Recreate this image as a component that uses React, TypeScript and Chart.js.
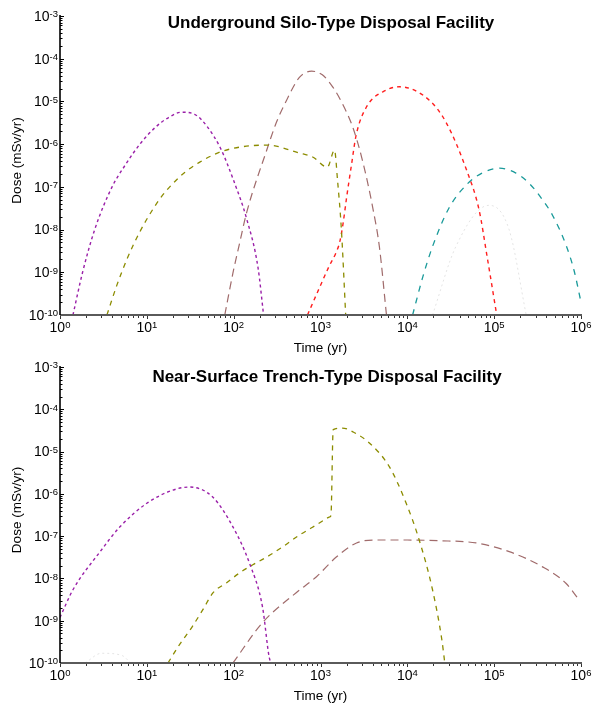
import React, { useEffect, useRef } from "react";
import { Chart, registerables } from "chart.js";

Chart.register(...registerables);

// ---------- axis ticks ----------
const X_TICKS = [1, 10, 100, 1e3, 1e4, 1e5, 1e6];
const X_TICK_EXP = ["0", "1", "2", "3", "4", "5", "6"];
const Y_TICKS = [1e-3, 1e-4, 1e-5, 1e-6, 1e-7, 1e-8, 1e-9, 1e-10];
const Y_TICK_EXP = ["-3", "-4", "-5", "-6", "-7", "-8", "-9", "-10"];

const TOP_TITLE = "Underground Silo-Type Disposal Facility";
const BOTTOM_TITLE = "Near-Surface Trench-Type Disposal Facility";
const X_LABEL = "Time (yr)";
const Y_LABEL = "Dose (mSv/yr)";

// ---------- top chart (silo) ----------
const siloPurpleT = [1.41, 1.82, 2.51, 3.98, 5.62, 8.32, 12.6, 17.8, 25.1, 35.5, 50.1, 70.8, 100, 141, 191, 221];
const siloPurpleD = [1e-10, 1e-9, 1e-8, 1e-7, 3.2e-7, 1e-6, 2.5e-6, 4.2e-6, 5.6e-6, 5.0e-6, 2.5e-6, 7.9e-7, 1.4e-7, 1.8e-8, 1.26e-9, 1e-10];

const siloOliveT = [3.47, 4.52, 6.03, 8.32, 11.5, 15.1, 20, 27.5, 40.7, 69.2, 117, 240, 575, 813, 1200, 1450, 1570, 1740, 1950];
const siloOliveD = [1e-10, 5e-10, 2.24e-9, 8.9e-9, 2.8e-8, 6.3e-8, 1.2e-7, 2.2e-7, 3.8e-7, 6.5e-7, 8.5e-7, 9.5e-7, 6.2e-7, 5.0e-7, 2.9e-7, 7.2e-7, 1.45e-7, 1.0e-8, 1e-10];

const siloBrownT = [79, 98, 117, 141, 240, 310, 407, 575, 790, 1050, 1380, 1780, 2350, 3030, 3980, 4770, 5750];
const siloBrownD = [1e-10, 9.5e-10, 4.8e-9, 2.5e-8, 7.2e-7, 3.2e-6, 1.07e-5, 3.7e-5, 5.1e-5, 4.2e-5, 2.2e-5, 9e-6, 2.5e-6, 4.3e-7, 3.4e-8, 3.9e-9, 1e-10];

const siloRedT = [708, 980, 1260, 1500, 1660, 1820, 2000, 2290, 2570, 3380, 5750, 8100, 17900, 28000, 48000, 67000, 83000, 107000];
const siloRedD = [1e-10, 4.5e-10, 1.4e-9, 2.8e-9, 5e-9, 1.4e-8, 5.7e-8, 3.6e-7, 1.6e-6, 7.4e-6, 1.85e-5, 2.2e-5, 1.07e-5, 3.2e-6, 2.5e-7, 2.9e-8, 2.3e-9, 1e-10];

const siloTealT = [11500, 15100, 19500, 30200, 49000, 72400, 115000, 178000, 251000, 355000, 468000, 676000, 832000, 1000000];
const siloTealD = [1e-10, 7.9e-10, 4e-9, 3.2e-8, 1.17e-7, 2.1e-7, 2.75e-7, 2.1e-7, 1.23e-7, 5.2e-8, 2.2e-8, 4.2e-9, 1.1e-9, 2e-10];

const siloFaintT = [19500, 36000, 87000, 149000, 234000];
const siloFaintD = [1e-10, 3.9e-9, 3.7e-8, 9.8e-9, 1e-10];

// ---------- bottom chart (trench) ----------
const trenchPurpleT = [1, 1.41, 2.9, 4.9, 10, 20, 31, 57, 98, 152, 215, 258, 275];
const trenchPurpleD = [1.2e-9, 5.4e-9, 4.3e-8, 1.66e-7, 6e-7, 1.23e-6, 1.45e-6, 8.5e-7, 1.66e-7, 2.3e-8, 2.1e-9, 1.3e-10, 1e-10];

const trenchOliveT = [17.5, 24, 33, 44, 58, 83, 117, 166, 240, 363, 575, 800, 1100, 1280, 1320, 1400, 1780, 2500, 3650, 6200, 9700, 13700, 19500, 25000, 27000];
const trenchOliveD = [1e-10, 2.8e-10, 7e-10, 1.8e-9, 4.6e-9, 7.9e-9, 1.35e-8, 2.1e-8, 3.2e-8, 5.5e-8, 1.07e-7, 1.6e-7, 2.4e-7, 2.85e-7, 3.1e-7, 3.3e-5, 3.6e-5, 2.75e-5, 1.6e-5, 4.4e-6, 6e-7, 8.1e-8, 5.4e-9, 3.5e-10, 1e-10];

const trenchBrownT = [98, 215, 525, 900, 1520, 2600, 4400, 10000, 23000, 62000, 149000, 357000, 670000, 950000];
const trenchBrownD = [1e-10, 9e-10, 4.6e-9, 1.1e-8, 3.2e-8, 6.9e-8, 8.1e-8, 8.1e-8, 7.8e-8, 6.9e-8, 4.3e-8, 1.9e-8, 7.7e-9, 3.1e-9];

const trenchFaintT = [1.95, 3.0, 5.2, 6.5];
const trenchFaintD = [1e-10, 1.7e-10, 1.5e-10, 1e-10];

// ---------- styles ----------
const PURPLE = "#9a1fa8";
const OLIVE = "#8c8c00";
const BROWN = "#a06b6b";
const RED = "#ff1e1e";
const TEAL = "#1a9a9a";
const FAINT = "#e4e4e4";

type Series = { t: number[]; d: number[]; color: string; dash: number[]; width: number };

const topSeries: Series[] = [
  { t: siloFaintT, d: siloFaintD, color: FAINT, dash: [2, 3], width: 1 },
  { t: siloPurpleT, d: siloPurpleD, color: PURPLE, dash: [3, 3], width: 1.4 },
  { t: siloOliveT, d: siloOliveD, color: OLIVE, dash: [5, 5], width: 1.3 },
  { t: siloBrownT, d: siloBrownD, color: BROWN, dash: [8, 5], width: 1.2 },
  { t: siloRedT, d: siloRedD, color: RED, dash: [4, 4], width: 1.4 },
  { t: siloTealT, d: siloTealD, color: TEAL, dash: [6, 6], width: 1.3 },
];

const bottomSeries: Series[] = [
  { t: trenchFaintT, d: trenchFaintD, color: FAINT, dash: [2, 3], width: 1 },
  { t: trenchPurpleT, d: trenchPurpleD, color: PURPLE, dash: [3, 3], width: 1.4 },
  { t: trenchOliveT, d: trenchOliveD, color: OLIVE, dash: [5, 5], width: 1.3 },
  { t: trenchBrownT, d: trenchBrownD, color: BROWN, dash: [8, 5], width: 1.2 },
];

const FONT = "Arial, 'Liberation Sans', sans-serif";

function makeAxesPlugin(title: string, titleCx: number, titleDy: number) {
  return {
    id: "customAxes",
    afterDraw(chart: any) {
      const { ctx, chartArea } = chart;
      const xs = chart.scales.x;
      const ys = chart.scales.y;
      const { left, right, top, bottom } = chartArea;
      ctx.save();

      // ticks on x axis
      ctx.strokeStyle = "#333";
      ctx.lineWidth = 1;
      for (let i = 0; i < X_TICKS.length; i++) {
        const v = X_TICKS[i];
        const px = Math.round(xs.getPixelForValue(v)) + 0.5;
        ctx.beginPath();
        ctx.moveTo(px, bottom);
        ctx.lineTo(px, bottom + 4);
        ctx.stroke();
        if (i < X_TICKS.length - 1) {
          for (let m = 2; m <= 9; m++) {
            const mx = Math.round(xs.getPixelForValue(v * m)) + 0.5;
            ctx.beginPath();
            ctx.moveTo(mx, bottom);
            ctx.lineTo(mx, bottom + 3);
            ctx.stroke();
          }
        }
      }
      // ticks on y axis (inside)
      ctx.strokeStyle = "#000";
      for (let i = 0; i < Y_TICKS.length; i++) {
        const v = Y_TICKS[i];
        const py = Math.round(ys.getPixelForValue(v)) + 0.5;
        ctx.beginPath();
        ctx.moveTo(left, py);
        ctx.lineTo(left + 4, py);
        ctx.stroke();
        if (i < Y_TICKS.length - 1) {
          for (let m = 2; m <= 9; m++) {
            const my = Math.round(ys.getPixelForValue((v / 10) * m)) + 0.5;
            ctx.beginPath();
            ctx.moveTo(left, my);
            ctx.lineTo(left + 2.5, my);
            ctx.stroke();
          }
        }
      }

      // axis lines
      ctx.strokeStyle = "#5a5a5a";
      ctx.lineWidth = 2;
      ctx.beginPath();
      ctx.moveTo(left, bottom);
      ctx.lineTo(right + 1, bottom);
      ctx.stroke();
      ctx.strokeStyle = "#000";
      ctx.lineWidth = 1.6;
      ctx.beginPath();
      ctx.moveTo(left, top - 1);
      ctx.lineTo(left, bottom);
      ctx.stroke();

      ctx.fillStyle = "#000";
      const baseFont = `14px ${FONT}`;
      const supFont = `9.5px ${FONT}`;

      // y tick labels
      for (let i = 0; i < Y_TICKS.length; i++) {
        const py = ys.getPixelForValue(Y_TICKS[i]);
        ctx.font = supFont;
        const ws = ctx.measureText(Y_TICK_EXP[i]).width;
        const xEnd = left - 2;
        ctx.textAlign = "left";
        ctx.textBaseline = "top";
        ctx.fillText(Y_TICK_EXP[i], xEnd - ws, py - 6);
        ctx.font = baseFont;
        ctx.textAlign = "right";
        ctx.textBaseline = "middle";
        ctx.fillText("10", xEnd - ws, py + 1);
      }
      // x tick labels
      for (let i = 0; i < X_TICKS.length; i++) {
        const px = xs.getPixelForValue(X_TICKS[i]);
        ctx.font = baseFont;
        const wb = ctx.measureText("10").width;
        ctx.font = supFont;
        const ws = ctx.measureText(X_TICK_EXP[i]).width;
        const x0 = px - (wb + ws) / 2;
        const cy = bottom + 13;
        ctx.font = baseFont;
        ctx.textAlign = "left";
        ctx.textBaseline = "middle";
        ctx.fillText("10", x0, cy);
        ctx.font = supFont;
        ctx.textBaseline = "top";
        ctx.fillText(X_TICK_EXP[i], x0 + wb, cy - 7);
      }

      // axis titles
      ctx.font = `13.5px ${FONT}`;
      ctx.textAlign = "center";
      ctx.textBaseline = "middle";
      ctx.fillText(X_LABEL, (left + right) / 2, bottom + 33);
      ctx.save();
      ctx.translate(17, (top + bottom) / 2 - 5);
      ctx.rotate(-Math.PI / 2);
      ctx.fillText(Y_LABEL, 0, 0);
      ctx.restore();

      // chart title
      ctx.font = `bold 17px ${FONT}`;
      ctx.textAlign = "center";
      ctx.textBaseline = "middle";
      ctx.fillText(title, titleCx, top + titleDy);

      ctx.restore();
    },
  };
}

function DoseChart(props: {
  series: Series[];
  title: string;
  titleCx: number;
  titleDy: number;
  height: number;
  pad: { top: number; bottom: number };
}) {
  const ref = useRef<HTMLCanvasElement | null>(null);
  useEffect(() => {
    if (!ref.current) return;
    const chart = new Chart(ref.current, {
      type: "line",
      data: {
        datasets: props.series.map((s) => ({
          data: s.t.map((t, i) => ({ x: t, y: s.d[i] })),
          borderColor: s.color,
          borderDash: s.dash,
          borderWidth: s.width,
          pointRadius: 0,
          fill: false,
          cubicInterpolationMode: "monotone" as const,
        })),
      },
      options: {
        animation: false,
        responsive: false,
        maintainAspectRatio: false,
        layout: { padding: { left: 60, right: 11, top: props.pad.top, bottom: props.pad.bottom } },
        plugins: { legend: { display: false }, title: { display: false }, tooltip: { enabled: false } },
        scales: {
          x: { type: "logarithmic", min: 1, max: 1e6, display: false },
          y: { type: "logarithmic", min: 1e-10, max: 1e-3, display: false },
        },
      },
      plugins: [makeAxesPlugin(props.title, props.titleCx, props.titleDy)],
    });
    return () => chart.destroy();
  }, []);
  return (
    <canvas
      ref={ref}
      width={592}
      height={props.height}
      style={{ display: "block", width: 592, height: props.height }}
    />
  );
}

export default function App() {
  return (
    <div style={{ position: "absolute", left: 0, top: 0, width: 592, height: 704, background: "#fff" }}>
      <DoseChart series={topSeries} title={TOP_TITLE} titleCx={331} titleDy={7} height={356} pad={{ top: 16, bottom: 41 }} />
      <DoseChart series={bottomSeries} title={BOTTOM_TITLE} titleCx={327} titleDy={10} height={348} pad={{ top: 11, bottom: 41 }} />
    </div>
  );
}
